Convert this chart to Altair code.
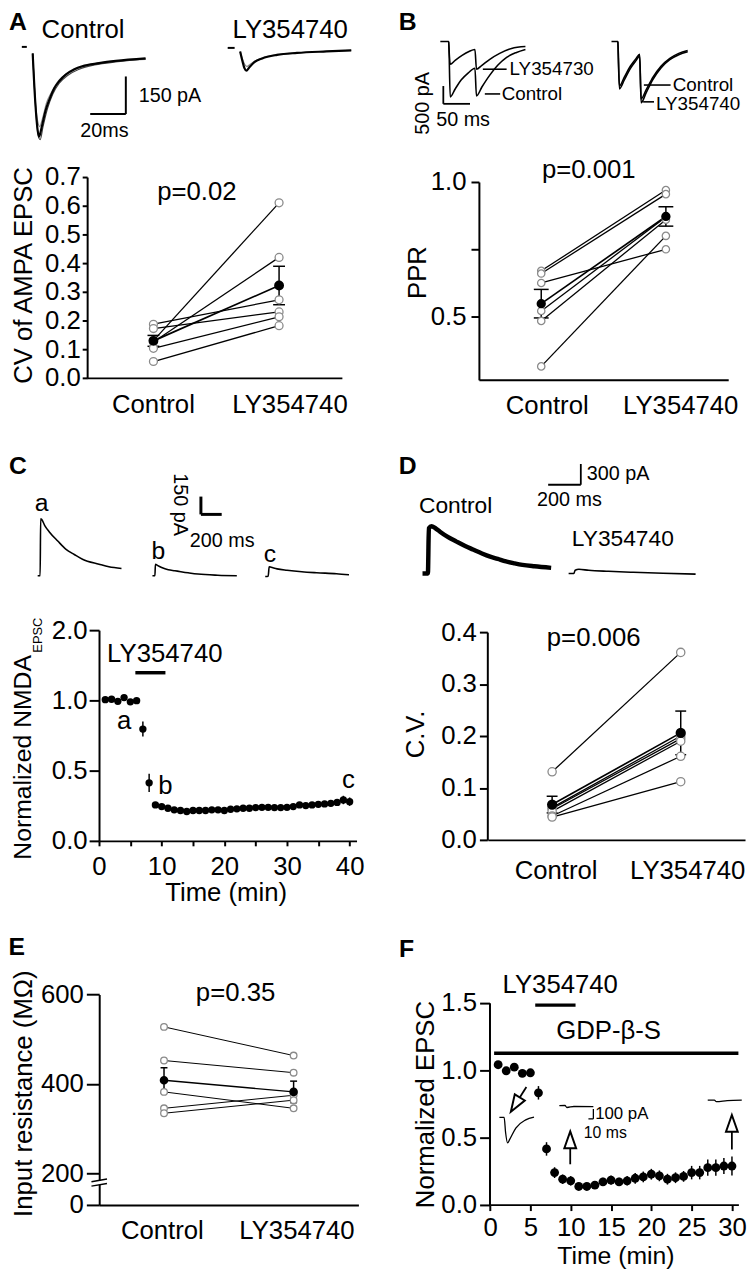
import altair as alt
import pandas as pd

FONT = "Liberation Sans"
W, H = 748, 1272
GRAY = "#8a8a8a"

# ================= DATA =================
# ---- Panel A: CV of AMPA EPSC (paired cells) ----
A_ctrl = [0.130, 0.125, 0.187, 0.172, 0.103, 0.057]
A_ly = [0.610, 0.420, 0.272, 0.230, 0.213, 0.182]
A_mean = [0.129, 0.322]
A_sem = [0.019, 0.067]
A_yticks = [0.0, 0.1, 0.2, 0.3, 0.4, 0.5, 0.6, 0.7]
# A traces (ms, pA)
A_c1_t = [7.2, 8.6, 10.0, 10.8, 12.2, 14.4, 16.7, 19.4, 22.2, 26.1, 30.6, 35.0, 44.4, 53.9, 70.6]
A_c1_i = [-8, -197, -316, -340, -304, -237, -190, -146, -118, -91, -71, -59, -47, -38, -28]
A_c2_t = [7.2, 8.9, 10.3, 11.1, 12.8, 15.0, 17.8, 21.1, 25.0, 30.6, 38.9, 50.0, 70.6]
A_c2_i = [-8, -217, -288, -300, -265, -205, -162, -122, -95, -73, -55, -41, -32]
A_c3_t = [7.2, 9.0, 10.6, 11.4, 13.0, 15.5, 18.5, 22.0, 27.0, 33.0, 42.0, 55.0, 70.6]
A_c3_i = [-8, -240, -345, -352, -300, -228, -170, -128, -95, -72, -54, -41, -30]
A_l1_t = [123.7, 125.0, 126.1, 127.2, 128.9, 131.7, 136.1, 144.4, 155.6, 172.2, 186.1]
A_l1_i = [0, -39, -67, -77, -63, -43, -28, -14, -6, 0, 4]
A_l2_t = [123.7, 125.0, 126.3, 127.5, 129.5, 132.5, 137.0, 145.0, 156.0, 172.2, 186.1]
A_l2_i = [0, -30, -52, -60, -50, -36, -24, -12, -5, 0, 4]

# ---- Panel B: PPR ----
B_ctrl = [0.670, 0.660, 0.625, 0.521, 0.484, 0.315]
B_ly = [0.970, 0.955, 0.750, 0.870, 0.860, 0.800]
B_mean = [0.548, 0.872]
B_sem = [0.053, 0.036]
B_cl_t = [0, 15.7, 18.5, 27.8, 38.9, 51.9, 64.8, 67.6, 77.8, 92.6, 107.4, 124.1, 142.6, 159.3]
B_cl_i = [0, 0, -1556, -1333, -1083, -889, -750, -1528, -1278, -944, -667, -444, -306, -222]
B_l30_t = [15.7, 18.5, 27.8, 40.7, 53.7, 64.8, 67.6, 77.8, 92.6, 111.1, 133.3, 159.3]
B_l30_i = [0, -639, -528, -389, -278, -222, -778, -667, -500, -333, -194, -139]
B_cr_t = [320.4, 332.4, 335.2, 344.4, 355.6, 366.7, 373.1, 375.9, 385.2, 398.1, 413.0, 429.6, 446.3, 463.0]
B_cr_i = [0, 0, -1250, -1000, -694, -472, -361, -1611, -1361, -1000, -694, -472, -333, -250]
B_l40_t = [332.4, 335.2, 344.4, 355.6, 366.7, 373.1, 375.9, 385.2, 398.1, 413.0, 429.6, 446.3, 463.0]
B_l40_i = [0, -1330, -1080, -760, -530, -410, -1720, -1440, -1060, -740, -510, -370, -290]

# ---- Panel C: normalized NMDA EPSC time course ----
C_time = [1, 2, 3, 4, 5, 6, 7, 8, 9, 10, 11, 12, 13, 14, 15, 16, 17, 18, 19, 20,
          21, 22, 23, 24, 25, 26, 27, 28, 29, 30, 31, 32, 33, 34, 35, 36, 37, 38, 39, 40]
C_val = [1.005, 1.008, 0.993, 1.020, 0.990, 0.998, 0.796, 0.413, 0.256, 0.244,
         0.232, 0.221, 0.216, 0.209, 0.216, 0.216, 0.216, 0.221, 0.221, 0.216,
         0.225, 0.228, 0.232, 0.232, 0.237, 0.239, 0.239, 0.237, 0.237, 0.239,
         0.244, 0.256, 0.251, 0.256, 0.260, 0.263, 0.267, 0.274, 0.291, 0.279]
C_err = [0.012, 0.012, 0.012, 0.012, 0.012, 0.012, 0.053, 0.065, 0.015, 0.015,
         0.015, 0.015, 0.015, 0.015, 0.015, 0.015, 0.015, 0.015, 0.015, 0.015,
         0.015, 0.015, 0.015, 0.015, 0.015, 0.015, 0.015, 0.015, 0.015, 0.015,
         0.018, 0.018, 0.018, 0.018, 0.020, 0.020, 0.020, 0.022, 0.030, 0.030]
C_a_t = [0, 23.8, 28.6, 38.1, 66.7, 114.3, 193.3, 273.3, 352.4, 431.4, 590.5, 685.7, 806.7]
C_a_i = [0, 0, 479, 475, 425, 367, 292, 222, 179, 139, 97, 75, 61]
C_b_t = [1104.8, 1128.6, 1133.3, 1152.4, 1193.3, 1257.1, 1320.9, 1447.6, 1542.9, 1733.3, 1917.1]
C_b_i = [0, 0, 97, 87, 69, 50, 42, 25, 14, 4, 0]
C_c_t = [2190.5, 2219.0, 2228.6, 2247.6, 2304.8, 2400.0, 2542.9, 2685.7, 2876.2, 2997.1]
C_c_i = [-6, -4, 75, 71, 58, 46, 33, 25, 17, 8]

# ---- Panel D: C.V. of NMDA EPSC ----
D_ctrl = [0.131, 0.062, 0.060, 0.055, 0.046, 0.044]
D_ly = [0.361, 0.200, 0.195, 0.190, 0.161, 0.112]
D_mean = [0.068, 0.206]
D_sem = [0.016, 0.042]
D_c_t = [0, 33, 39, 55, 79, 107, 152, 208, 261, 309, 364, 410, 461, 511, 564, 612, 685, 788]
D_c_i = [0, 0, 653, 681, 653, 603, 531, 460, 396, 346, 289, 246, 210, 174, 146, 124, 103, 81]
D_l_t = [895, 927, 935, 958, 1018, 1139, 1291, 1473, 1673]
D_l_i = [0, 0, 46, 60, 46, 31, 17, 3, -9]

# ---- Panel E: input resistance ----
E_ctrl = [527.7, 452.6, 382.5, 345.8, 334.8]
E_ly = [463.6, 425.4, 345.8, 375.0, 364.0]
E_mean = [408.4, 382.5]
E_sem = [28.0, 24.0]

# ---- Panel F: normalized EPSC with GDP-beta-S ----
F_time = [1, 2, 3, 4, 5, 6, 7, 8, 9, 10, 11, 12, 13, 14, 15,
          16, 17, 18, 19, 20, 21, 22, 23, 24, 25, 26, 27, 28, 29, 30]
F_val = [1.040, 0.995, 1.022, 0.976, 0.980, 0.831, 0.414, 0.238, 0.189, 0.177,
         0.135, 0.135, 0.145, 0.169, 0.182, 0.169, 0.177, 0.196, 0.206, 0.226,
         0.214, 0.189, 0.200, 0.210, 0.238, 0.238, 0.275, 0.275, 0.287, 0.287]
F_err = [0.015, 0.015, 0.015, 0.015, 0.015, 0.050, 0.050, 0.040, 0.035, 0.035,
         0.020, 0.020, 0.025, 0.030, 0.035, 0.030, 0.035, 0.040, 0.040, 0.040,
         0.040, 0.040, 0.040, 0.040, 0.050, 0.050, 0.060, 0.060, 0.060, 0.070]
F_tr1_t = [0, 9.6, 12.6, 16.6, 20.6, 33.2, 53.2, 70.0]
F_tr1_i = [0, 0, -155, -258, -225, -108, -25, 2]
F_tr2_t = [121.2, 132.6, 136.6, 150.6, 190.0]
F_tr2_i = [118, 120, 100, 110, 108]
F_tr3_t = [421.2, 434.6, 438.6, 460.6, 490.0]
F_tr3_i = [175, 175, 160, 170, 175]


# ================= HELPERS =================
def sc(d0, d1, p0, p1):
    """linear scale: data d0 -> page p0, d1 -> page p1"""
    return alt.Scale(domain=[d0, d1], range=[p0 - 8, p1 - 8], nice=False, zero=False)


def inset(x0, ppx, xd, y0, ppy, yd):
    return (sc(xd[0], xd[1], x0 + xd[0] * ppx, x0 + xd[1] * ppx),
            sc(yd[0], yd[1], y0 - yd[0] * ppy, y0 - yd[1] * ppy))


def left_axis(xpage, title_base_x=None, title_mid_y=None, **kw):
    extra = {}
    if title_base_x is not None:
        extra = dict(titleX=title_base_x - xpage, titleY=title_mid_y - 8, titleAngle=270,
                     titleAlign="center", titleBaseline="alphabetic")
    return alt.Axis(orient="left", offset=-(xpage - 8), **extra, **kw)


def bottom_axis(ypage, title_mid_x=None, title_base_y=None, **kw):
    extra = {}
    if title_mid_x is not None:
        extra = dict(titleX=title_mid_x - 8, titleY=title_base_y - ypage,
                     titleAlign="center", titleBaseline="alphabetic")
    return alt.Axis(orient="bottom", offset=ypage - 8 - H, **extra, **kw)


def XY(sx, sy, xf="x", yf="y"):
    return dict(x=alt.X(f"{xf}:Q", scale=sx, axis=None), y=alt.Y(f"{yf}:Q", scale=sy, axis=None))


def text(xs, ys, texts, sx, sy, size=26, align="center", baseline="alphabetic", angle=0, bold=False):
    df = pd.DataFrame({"x": xs, "y": ys, "t": texts})
    mk = dict(align=align, baseline=baseline, fontSize=size, font=FONT, color="black")
    if angle:
        mk["angle"] = angle
    if bold:
        mk["fontWeight"] = "bold"
    return alt.Chart(df).mark_text(**mk).encode(text="t:N", **XY(sx, sy))


def trace(ts, vs, sx, sy, color="black", width=1.4, interp="monotone"):
    df = pd.DataFrame({"x": ts, "y": vs, "k": list(range(len(ts)))})
    return alt.Chart(df).mark_line(color=color, strokeWidth=width, interpolate=interp).encode(
        order="k:Q", **XY(sx, sy))


def segs(x1, x2, y1, y2, sx, sy, width=1.4):
    df = pd.DataFrame({"x": x1, "x2": x2, "y": y1, "y2": y2})
    return alt.Chart(df).mark_rule(color="black", strokeWidth=width).encode(
        x2="x2:Q", y2="y2:Q", **XY(sx, sy))


def paired(ctrl, ly, mean, sem, sx, sy, xaxis, yaxis, csize, cap, lw=1.3):
    rows = []
    for i, (c, l) in enumerate(zip(ctrl, ly)):
        rows.append({"cell": i, "x": 1, "y": c})
        rows.append({"cell": i, "x": 2, "y": l})
    df = pd.DataFrame(rows)
    mdf = pd.DataFrame({"x": [1, 2], "y": mean,
                        "lo": [m - s for m, s in zip(mean, sem)],
                        "hi": [m + s for m, s in zip(mean, sem)]})
    lines = alt.Chart(df).mark_line(color="black", strokeWidth=lw).encode(
        x=alt.X("x:Q", scale=sx, axis=xaxis), y=alt.Y("y:Q", scale=sy, axis=yaxis), detail="cell:N")
    mline = alt.Chart(mdf).mark_line(color="black", strokeWidth=lw + 0.4).encode(**XY(sx, sy))
    err = alt.Chart(mdf).mark_rule(color="black", strokeWidth=1.5).encode(y2="hi:Q", **XY(sx, sy, yf="lo"))
    cap_lo = alt.Chart(mdf).mark_tick(orient="horizontal", size=cap, thickness=1.5, color="black",
                                      opacity=1).encode(**XY(sx, sy, yf="lo"))
    cap_hi = alt.Chart(mdf).mark_tick(orient="horizontal", size=cap, thickness=1.5, color="black",
                                      opacity=1).encode(**XY(sx, sy, yf="hi"))
    circ = alt.Chart(df).mark_point(shape="circle", filled=True, fill="white", stroke=GRAY,
                                    strokeWidth=1.3, size=csize, opacity=1).encode(**XY(sx, sy))
    mpt = alt.Chart(mdf).mark_point(shape="circle", filled=True, fill="black", stroke="black",
                                    size=csize, opacity=1).encode(**XY(sx, sy))
    return [lines, mline, err, cap_lo, cap_hi, circ, mpt]


def cat_axis(ypage):
    return bottom_axis(ypage, labels=False, ticks=False, title=None)


# ================= PANEL A =================
Ax, Ay = sc(0.47, 2.5, 87.7, 345.5), sc(0.0, 0.7, 375, 172)
A_main = paired(A_ctrl, A_ly, A_mean, A_sem, Ax, Ay, cat_axis(375),
                left_axis(88, 32, 271, values=A_yticks, format=".1f", title="CV of AMPA EPSC",
                          tickSize=5, labelPadding=2), 64, 12) + [
    text([1.0, 2.087], [-0.124, -0.124], ["Control", "LY354740"], Ax, Ay),
    text([1.346], [0.621], ["p=0.02"], Ax, Ay),
]
aX, aY = inset(20, 1.8, (-15, 210), 45, 0.2533, (-420, 100))
A_ins = [
    trace(A_c2_t, A_c2_i, aX, aY, color=GRAY, width=1.2),
    trace(A_c3_t, A_c3_i, aX, aY, color="#444444", width=1.2),
    trace(A_c1_t, A_c1_i, aX, aY, width=2.2),
    trace(A_l2_t, A_l2_i, aX, aY, color=GRAY, width=1.2),
    trace(A_l1_t, A_l1_i, aX, aY, width=2.2),
    segs([1.1, 116.7], [3.9, 120.6], [18, 14], [18, 14], aX, aY, width=2),
    segs([39.5, 59.5], [59.5, 59.5], [-250, -250], [-250, -100], aX, aY, width=2),
    text([66.7], [-178], ["150 pA"], aX, aY, size=20, align="left", baseline="middle"),
    text([47.5], [-318], ["20ms"], aX, aY, size=20, baseline="middle"),
    text([12.2, 119.4], [55, 55], ["Control", "LY354740"], aX, aY, align="left"),
    text([-6.1], [87], ["A"], aX, aY, size=25, align="left", bold=True),
]

# ================= PANEL B =================
Bx, By = sc(0.5, 2.5, 484, 736), sc(0.265, 1.0, 377, 177)
B_main = paired(B_ctrl, B_ly, B_mean, B_sem, Bx, By, cat_axis(377),
                left_axis(484, 430, 268, values=[0.5, 0.75, 1.0],
                          labelExpr="datum.value == 0.75 ? '' : format(datum.value, '.1f')",
                          title="PPR", tickSize=8, labelPadding=5), 55, 15) + [
    text([1.048, 2.119], [0.140, 0.140], ["Control", "LY354740"], Bx, By),
    text([1.381], [1.015], ["p=0.001"], Bx, By),
]
bX, bY = inset(445, 0.54, (-150, 600), 35, 0.036, (-2300, 500))
B_ins = [
    trace(B_cl_t, B_cl_i, bX, bY, width=1.6),
    trace(B_l30_t, B_l30_i, bX, bY, width=1.6),
    trace(B_cr_t, B_cr_i, bX, bY, width=1.6),
    trace(B_l40_t, B_l40_i, bX, bY, width=1.6),
    segs([5.6, 5.6], [5.6, 55.6], [-1750, -1750], [-1250, -1750], bX, bY, width=1.8),
    segs([79.6, 83.3, 381, 379.6], [124.1, 112, 431, 400],
         [-778, -1472, -1222, -1694], [-778, -1472, -1222, -1694], bX, bY, width=1.6),
    text([129.6, 114.8, 435, 403.7], [-778, -1472, -1222, -1750],
         ["LY354730", "Control", "Control", "LY354740"], bX, bY, size=19, align="left", baseline="middle"),
    text([-31.5], [-1736], ["500 pA"], bX, bY, size=20, baseline="middle", angle=270),
    text([42.6], [-2194], ["50 ms"], bX, bY, size=20, baseline="middle"),
    text([-77.8], [333], ["B"], bX, bY, size=25, align="left", bold=True),
]

# ================= PANEL C =================
Cx, Cy = sc(0, 41.1, 100, 360.3), sc(0.0, 1.5, 843, 630)
C_df = pd.DataFrame({"x": C_time, "y": C_val,
                     "lo": [v - e for v, e in zip(C_val, C_err)],
                     "hi": [v + e for v, e in zip(C_val, C_err)]})
C_main = [
    alt.Chart(C_df).mark_rule(color="black", strokeWidth=1.5).encode(
        x=alt.X("x:Q", scale=Cx, axis=bottom_axis(
            843, 228, 903.6, values=[0, 5, 10, 15, 20, 25, 30, 35, 40],
            labelExpr="datum.value % 10 == 0 ? format(datum.value, 'd') : ''",
            title="Time (min)", tickSize=5, labelPadding=28.6, labelBaseline="alphabetic")),
        y=alt.Y("lo:Q", scale=Cy, axis=left_axis(
            100, values=[0.0, 0.5, 1.0, 1.5],
            labelExpr="datum.value == 1.5 ? '2.0' : format(datum.value, '.1f')",
            title=None, tickSize=10, labelPadding=2)),
        y2="hi:Q"),
    alt.Chart(C_df).mark_point(shape="circle", filled=True, color="black", size=55, opacity=1).encode(**XY(Cx, Cy)),
    segs([5.8], [10.6], [1.197], [1.197], Cx, Cy, width=3.5),
    text([10.5], [1.275], ["LY354740"], Cx, Cy),
    text([4.0, 10.6, 39.8], [0.85, 0.39, 0.43], ["a", "b", "c"], Cx, Cy, baseline="middle"),
    text([-10.9], [-0.134], ["Normalized NMDA"], Cx, Cy, size=25, align="left", angle=270),
    text([-9.1], [1.340], ["EPSC"], Cx, Cy, size=13, align="left", angle=270),
]
cX, cY = inset(38, 0.105, (-400, 3200), 575, 0.12, (-100, 1000))
C_ins = [
    trace(C_a_t, C_a_i, cX, cY, width=1.6),
    trace(C_b_t, C_b_i, cX, cY, width=1.6),
    trace(C_c_t, C_c_i, cX, cY, width=1.6),
    segs([1571.4, 1571.4], [1571.4, 1771.4], [516.7, 516.7], [666.7, 516.7], cX, cY, width=3),
    text([1366.7], [600], ["150 pA"], cX, cY, size=20, baseline="middle", angle=90),
    text([1776], [292], ["200 ms"], cX, cY, size=20, baseline="middle"),
    text([38, 1162, 2235], [608, 208, 183], ["a", "b", "c"], cX, cY, size=25, baseline="middle"),
    text([-276], [858], ["C"], cX, cY, size=25, align="left", bold=True),
]

# ================= PANEL D =================
Dx, Dy = sc(0.5, 2.5, 493, 753), sc(0.0, 0.4, 842, 632)
D_main = paired(D_ctrl, D_ly, D_mean, D_sem, Dx, Dy, cat_axis(842),
                left_axis(492.5, 428, 735, values=[0.0, 0.1, 0.2, 0.3, 0.4], format=".1f", title="C.V.",
                          tickSize=8, labelPadding=3), 70, 11) + [
    text([1.031, 2.054], [-0.076, -0.076], ["Control", "LY354740"], Dx, Dy),
    text([1.323], [0.373], ["p=0.006"], Dx, Dy),
]
dX, dY = inset(427, 0.165, (-200, 2000), 572.7, 0.07, (-200, 1800))
D_ins = [
    trace(D_c_t, D_c_i, dX, dY, width=4.5),
    trace(D_l_t, D_l_i, dX, dY, width=1.6),
    segs([969.7, 769.7], [969.7, 969.7], [1281, 1281], [1581, 1281], dX, dY, width=1.8),
    text([1006], [1439], ["300 pA"], dX, dY, size=20, align="left", baseline="middle"),
    text([900], [1067], ["200 ms"], dX, dY, size=20, baseline="middle"),
    text([203, 1227], [967, 496], ["Control", "LY354740"], dX, dY, size=23, baseline="middle"),
    text([-145.5], [1439], ["D"], dX, dY, size=25, align="left", bold=True),
]

# ================= PANEL E =================
Ex, Ey = sc(0.5, 2.5, 100.2, 362.2), sc(130, 600, 1211, 998.3)
E_main = paired(E_ctrl, E_ly, E_mean, E_sem, Ex, Ey, cat_axis(1211),
                left_axis(100.2, 32, 1098, values=[130, 200, 400, 600],
                          labelExpr="datum.value == 130 ? '0' : format(datum.value, 'd')",
                          title="Input resistance (M\u03a9)", tickSize=13, labelPadding=3),
                45, 7, lw=1.0) + [
    alt.Chart(pd.DataFrame({"x": [0.46], "x2": [0.545], "y": [175], "y2": [185]})).mark_rect(
        color="white").encode(x2="x2:Q", y2="y2:Q", **XY(Ex, Ey)),
    segs([0.44, 0.44], [0.56, 0.56], [172, 182], [178, 188], Ex, Ey, width=1.5),
    text([0.987, 2.026], [54.8, 54.8], ["Control", "LY354740"], Ex, Ey),
    text([1.552], [585], ["p=0.35"], Ex, Ey),
    text([-0.2], [689], ["E"], Ex, Ey, size=25, align="left", bold=True),
]

# ================= PANEL F =================
Fx, Fy = sc(0, 30.8, 495.3, 746.3), sc(0.0, 1.5, 1210.7, 1006.7)
F_df = pd.DataFrame({"x": F_time, "y": F_val,
                     "lo": [v - e for v, e in zip(F_val, F_err)],
                     "hi": [v + e for v, e in zip(F_val, F_err)]})
arrow_shape = "M0,-1L0.7,1L-0.7,1Z"
F_main = [
    alt.Chart(F_df).mark_rule(color="black", strokeWidth=1.5).encode(
        x=alt.X("x:Q", scale=Fx, axis=bottom_axis(
            1210.7, 622, 1270, values=[0, 5, 10, 15, 20, 25, 30], format="d",
            title="Time (min)", titleFontSize=25, tickSize=6, labelPadding=24.8,
            labelBaseline="alphabetic")),
        y=alt.Y("lo:Q", scale=Fy, axis=left_axis(
            494.7, 438, 1109, values=[0.0, 0.5, 1.0, 1.5], format=".1f", title="Normalized EPSC",
            tickSize=10, labelPadding=3)),
        y2="hi:Q"),
    alt.Chart(F_df).mark_point(shape="circle", filled=True, color="black", size=80, opacity=1).encode(**XY(Fx, Fy)),
    segs([5.6, 0.5], [10.6, 30.8], [1.483, 1.125], [1.483, 1.125], Fx, Fy, width=3.5),
    text([8.7], [1.57], ["LY354740"], Fx, Fy),
    text([14.7], [1.23], ["GDP-\u03b2-S"], Fx, Fy),
    segs([4.50, 9.94, 29.99], [3.68, 9.94, 29.99], [0.875, 0.30, 0.41], [0.797, 0.42, 0.542], Fx, Fy, width=1.8),
    alt.Chart(pd.DataFrame({"x": [9.94, 29.99], "y": [0.482, 0.604]})).mark_point(
        shape=arrow_shape, filled=True, fill="white", stroke="black", strokeWidth=2, size=289,
        opacity=1).encode(**XY(Fx, Fy)),
    alt.Chart(pd.DataFrame({"x": [3.13], "y": [0.744]})).mark_point(
        shape=arrow_shape, filled=True, fill="white", stroke="black", strokeWidth=2, size=289,
        opacity=1, angle=212).encode(**XY(Fx, Fy)),
    text([-11.3], [1.843], ["F"], Fx, Fy, size=25, align="left", bold=True),
]
fX, fY = inset(504.7, 0.5, (-50, 520), 1122.5, 0.1, (-600, 300))
F_ins = [
    trace(F_tr1_t, F_tr1_i, fX, fY, width=1.3),
    trace(F_tr2_t, F_tr2_i, fX, fY, width=1.3),
    trace(F_tr3_t, F_tr3_i, fX, fY, width=1.3),
    segs([190, 180], [190, 190], [-15, -15], [85, -15], fX, fY, width=1.3),
    text([193.6], [32], ["100 pA"], fX, fY, size=17, align="left", baseline="middle"),
    text([170.6], [-158], ["10 ms"], fX, fY, size=16, align="left", baseline="middle"),
]

units = A_ins + A_main + B_ins + B_main + C_ins + C_main + D_ins + D_main + E_main + F_main + F_ins
chart = alt.layer(*units).resolve_scale(x="independent", y="independent").properties(
    width=W, height=H, autosize=alt.AutoSizeParams(type="none"), padding=0
).configure_view(strokeWidth=0).configure_axis(
    labelFont=FONT, titleFont=FONT, labelFontSize=26, titleFontSize=26,
    labelColor="black", titleColor="black", domainColor="black", tickColor="black",
    domainWidth=2, tickWidth=2, grid=False, titleFontWeight="normal",
    labelFlush=False, labelOverlap=False
)

chart.save("out.html", embed_options={"renderer": "svg", "actions": False})
